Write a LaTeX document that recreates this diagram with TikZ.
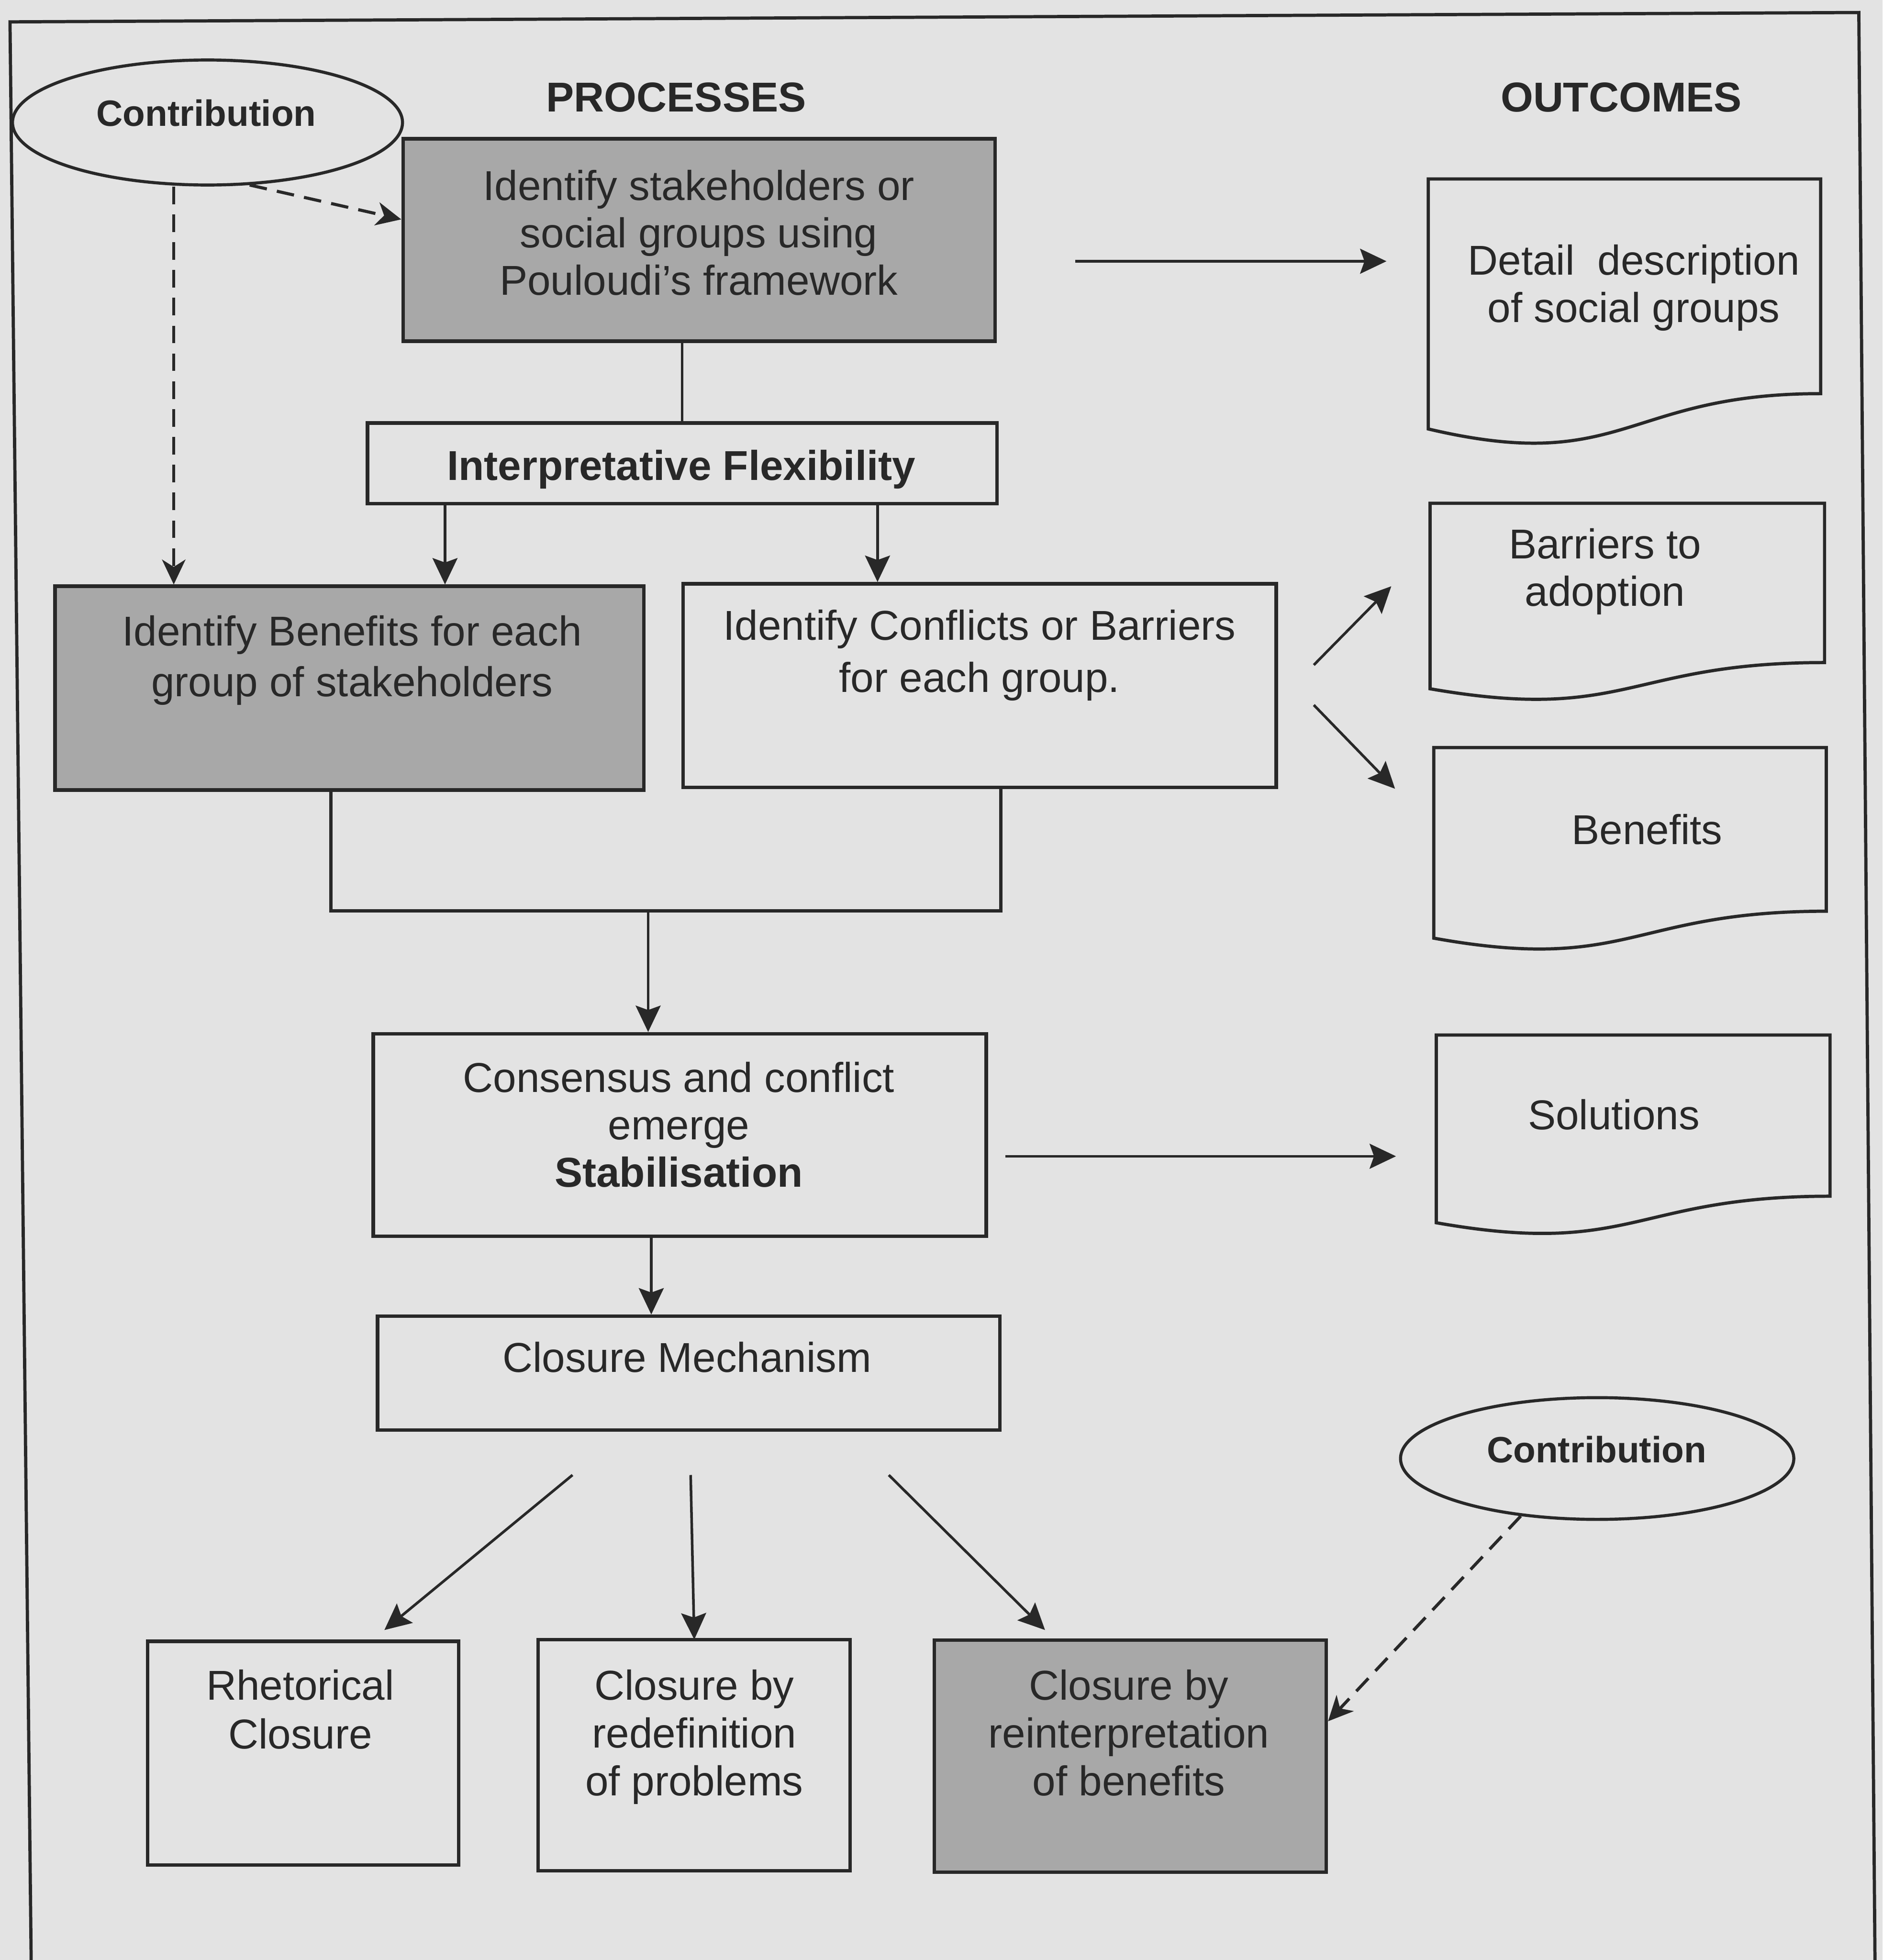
\documentclass[tikz,border=0pt]{standalone}
\usepackage{fontspec}
\setmainfont{Liberation Sans}
\usetikzlibrary{arrows.meta,shapes.geometric}
\definecolor{paper}{HTML}{E3E3E3}
\definecolor{shade}{HTML}{A8A8A8}
\definecolor{ink}{HTML}{282828}
% rectangle node given by its corners: style, name, x1, y1, x2, y2
\newcommand\mkbox[6]{%
  \node[#1, minimum width={(#5-#3)*0.03cm}, minimum height={(#6-#4)*0.03cm}] (#2) at ({(#3+#5)/2},{(#4+#6)/2}) {};}
% document shape with a wavy lower edge: name, left, top, right, full height
\newcommand\mkdoc[5]{%
  \node[docarea, minimum width={(#4-#2)*0.03cm}, minimum height={#5*0.03cm}] (#1) at ({(#2+#4)/2},{#3+#5/2}) {};
  \draw[docline] (#2,#3) -- (#4,#3) -- (#4,{#3+0.802*#5})
    .. controls ({(#2+#4)/2},{#3+0.802*#5}) and ({(#2+#4)/2},{#3+1.107*#5}) .. (#2,{#3+0.934*#5}) -- cycle;}
\begin{document}
\begin{tikzpicture}[x=0.03cm, y=-0.03cm,
  line/.style={draw=ink, line width=1.8pt},
  arr/.style={line, -{Stealth[length=18pt,width=17pt,inset=3pt]}},
  dasharr/.style={draw=ink, line width=2.1pt, dash pattern=on 12pt off 7pt,
    -{Stealth[length=17pt,width=16pt,inset=5pt]}},
  box/.style={draw=ink, line width=2.4pt, rectangle, inner sep=0pt},
  greybox/.style={box, fill=shade},
  plainbox/.style={box},
  docarea/.style={rectangle, inner sep=0pt},
  docline/.style={draw=ink, line width=2.2pt, line join=miter},
  oval/.style={ellipse, draw=ink, line width=2.1pt, inner sep=0pt},
  txt/.style={inner sep=0pt, anchor=base, align=center, text=ink,
    font=\fontsize{28.5}{32.4}\selectfont},
  btxt/.style={txt, font=\fontsize{28.5}{32.4}\selectfont\bfseries},
  ctxt/.style={txt, font=\fontsize{25}{30}\selectfont\bfseries},
]
\useasboundingbox (0,0) rectangle (1506,1568);
\fill[paper] (0,0) rectangle (1506,1568);

% page frame
\draw[draw=ink, line width=2.2pt] (25,1575) -- (8,17.5) -- (1487,10) -- (1500,1575);

% headings
\node[btxt] (hp) at (541,89.5) {PROCESSES};
\node[btxt] (ho) at (1297,89.5) {OUTCOMES};

% contribution ovals
\node[oval, minimum width={312*0.03cm}, minimum height={100*0.03cm}] (c1) at (166,98) {};
\node[ctxt] (c1t) at (165,101) {Contribution};
\node[oval, minimum width={314.6*0.03cm}, minimum height={97.4*0.03cm}] (c2) at (1277.7,1166.8) {};
\node[ctxt] (c2t) at (1277.3,1170) {Contribution};

% process boxes
\mkbox{greybox}{b1}{322.4}{111}{796}{273}
\mkbox{plainbox}{ifx}{294}{338.4}{797.5}{403}
\mkbox{greybox}{bp}{44}{469}{515}{632}
\mkbox{plainbox}{cf}{546.5}{467}{1021}{630}
\mkbox{plainbox}{cs}{298.6}{827}{789}{989}
\mkbox{plainbox}{cm}{302}{1053}{800}{1144}
\mkbox{plainbox}{rh}{118.2}{1313}{367}{1492}
\mkbox{plainbox}{rd}{430.4}{1311.6}{680}{1496.7}
\mkbox{greybox}{ri}{747.5}{1312}{1061}{1497.7}

% outcome documents
\mkdoc{dd}{1142.6}{143.2}{1456.5}{214.1}
\mkdoc{dbar}{1144}{402.6}{1459.6}{158.9}
\mkdoc{dben}{1147}{598}{1461}{163.3}
\mkdoc{dsol}{1149}{828}{1464}{160.8}

% box texts (multi-line texts sit on the baseline of their last line)
\node[txt] (b1t) at (559,236) {Identify stakeholders or\\social groups using\\Pouloudi’s framework};
\node[btxt] (ift) at (545,384) {Interpretative Flexibility};
\node[txt, font=\fontsize{28.5}{34.5}\selectfont] (bpt) at (281.6,557) {Identify Benefits for each\\group of stakeholders};
\node[txt, font=\fontsize{28.5}{35.5}\selectfont] (cft) at (783.6,553.6) {Identify Conflicts or Barriers\\for each group.};
\node[txt] (cst) at (543,949.5) {Consensus and conflict\\emerge\\\textbf{Stabilisation}};
\node[txt] (cmt) at (549.6,1097.6) {Closure Mechanism};
\node[txt, font=\fontsize{28.5}{33.3}\selectfont] (rht) at (240.2,1399) {Rhetorical\\Closure};
\node[txt, font=\fontsize{28.5}{32.7}\selectfont] (rdt) at (555.4,1436.6) {Closure by\\redefinition\\of problems};
\node[txt, font=\fontsize{28.5}{32.7}\selectfont] (rit) at (903,1436.6) {Closure by\\reinterpretation\\of benefits};
\node[txt] (ddt) at (1307,257.8) {Detail\ \ description\\of social groups};
\node[txt] (dbt) at (1284,484.8) {Barriers to\\adoption};
\node[txt] (dnt) at (1317.6,675.6) {Benefits};
\node[txt] (dst) at (1291,903.6) {Solutions};

% dashed contribution links
\coordinate (yA) at (0,175.5);
\draw[dasharr] (c1.-56.6) -- (b1.west |- yA);
\coordinate (xD) at (139,0);
\draw[dasharr] (c1.south -| xD) -- (bp.north -| xD);
\coordinate (yR) at (0,1377);
\draw[dasharr] (c2.217) -- (ri.east |- yR);

% process flow
\draw[line] (b1.south -| ifx.north) -- (ifx.north);
\coordinate (xL) at (356,0);
\coordinate (xR) at (702,0);
\draw[arr] (ifx.south -| xL) -- (bp.north -| xL);
\draw[arr] (ifx.south -| xR) -- (cf.north -| xR);
\coordinate (jn) at (518.5,728.7);
\coordinate (xBl) at (264.6,0);
\coordinate (xBr) at (800.6,0);
\draw[draw=ink, line width=2.3pt] (bp.south -| xBl) |- (jn) -| (cf.south -| xBr);
\draw[arr] (jn) -- (cs.north -| jn);
\coordinate (xM) at (521,0);
\draw[arr] (cs.south -| xM) -- (cm.north -| xM);

% closure branches
\coordinate (s1) at (458,1180);
\coordinate (s2) at (552.5,1180);
\coordinate (s3) at (711,1180);
\coordinate (e1) at (307.5,1304);
\coordinate (e2) at (555.4,1311.6);
\coordinate (e3) at (836,1304);
\draw[arr] (s1) -- (e1);
\draw[arr] (s2) -- (e2);
\draw[arr] (s3) -- (e3);

% links to outcomes
\coordinate (yDet) at (0,209);
\draw[arr, shorten <=1.884cm, shorten >=0.996cm] (b1.east |- yDet) -- (dd.west |- yDet);
\coordinate (ySol) at (0,925);
\draw[arr, shorten <=0.42cm, shorten >=0.96cm] (cs.east |- ySol) -- (dsol.west |- ySol);
\coordinate (o1) at (1051,532);
\coordinate (o2) at (1051,564);
\coordinate (t1) at (1113,469);
\coordinate (t2) at (1116,631);
\draw[arr] (o1) -- (t1);
\draw[arr] (o2) -- (t2);
\end{tikzpicture}
\end{document}
